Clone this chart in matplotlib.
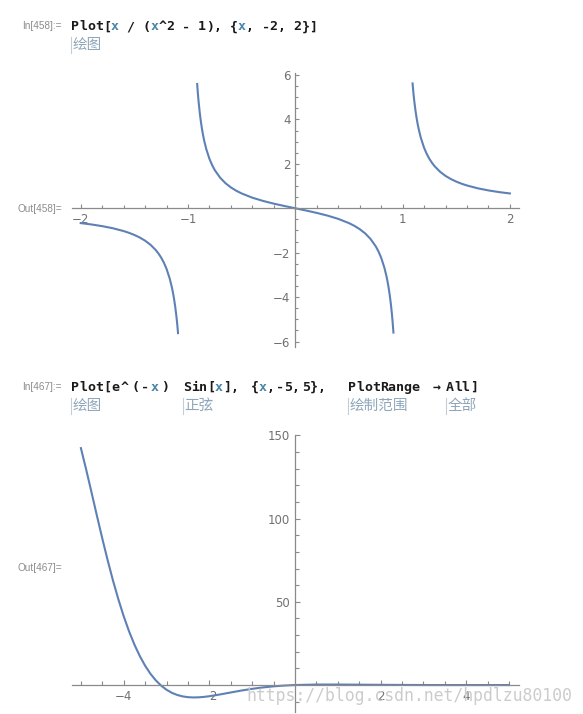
import matplotlib
matplotlib.use("Agg")
import matplotlib.pyplot as plt
from matplotlib.lines import Line2D
from matplotlib.ticker import FixedLocator

# ---------------- data ----------------
# Plot 1: x/(x^2-1) on [-2, 2], three branches
x1_left = [-2.0, -1.9, -1.8, -1.7, -1.6, -1.55, -1.5, -1.45, -1.4, -1.35, -1.3, -1.275, -1.25, -1.225,
           -1.2, -1.17, -1.15, -1.14, -1.13, -1.12, -1.11, -1.105, -1.10, -1.095, -1.093]
y1_left = [-0.667, -0.728, -0.804, -0.899, -1.026, -1.105, -1.20, -1.315, -1.458, -1.641, -1.884, -2.038,
           -2.222, -2.447, -2.727, -3.172, -3.566, -3.805, -4.081, -4.403, -4.782, -4.999, -5.238, -5.502, -5.62]

x1_mid = [-0.9146, -0.91, -0.905, -0.9, -0.89, -0.88, -0.87, -0.86, -0.85, -0.83, -0.8, -0.775, -0.75,
          -0.7, -0.65, -0.6, -0.55, -0.5, -0.4, -0.3, -0.2, -0.1, 0.0,
          0.1, 0.2, 0.3, 0.4, 0.5, 0.55, 0.6, 0.65, 0.7, 0.75, 0.775, 0.8, 0.83, 0.85, 0.86, 0.87,
          0.88, 0.89, 0.9, 0.905, 0.91, 0.9146]
y1_mid = [5.594, 5.294, 5.001, 4.737, 4.281, 3.901, 3.579, 3.303, 3.063, 2.668, 2.222, 1.941, 1.714,
          1.373, 1.126, 0.9375, 0.789, 0.667, 0.476, 0.330, 0.208, 0.101, 0.0,
          -0.101, -0.208, -0.330, -0.476, -0.667, -0.789, -0.9375, -1.126, -1.373, -1.714, -1.941, -2.222,
          -2.668, -3.063, -3.303, -3.579, -3.901, -4.281, -4.737, -5.001, -5.294, -5.594]

x1_right = [1.093, 1.095, 1.10, 1.105, 1.11, 1.12, 1.13, 1.14, 1.15, 1.17, 1.2, 1.225, 1.25, 1.275,
            1.3, 1.35, 1.4, 1.45, 1.5, 1.55, 1.6, 1.7, 1.8, 1.9, 2.0]
y1_right = [5.62, 5.502, 5.238, 4.999, 4.782, 4.403, 4.081, 3.805, 3.566, 3.172, 2.727, 2.447, 2.222, 2.038,
            1.884, 1.641, 1.458, 1.315, 1.20, 1.105, 1.026, 0.899, 0.804, 0.728, 0.667]

x1_ticklabels = [-2, -1, 1, 2]
y1_ticklabels = [-6, -4, -2, 2, 4, 6]

# Plot 2: e^(-x) Sin[x] on [-5, 5]
x2 = [-5.0, -4.875, -4.75, -4.625, -4.5, -4.375, -4.25, -4.125, -4.0, -3.875, -3.75, -3.625, -3.5,
      -3.375, -3.25, -3.125, -3.0, -2.875, -2.75, -2.625, -2.5, -2.375, -2.25, -2.125, -2.0, -1.75,
      -1.5, -1.25, -1.0, -0.75, -0.5, -0.25, 0.0, 0.5, 1.0, 1.5, 2.0, 2.5, 3.0, 3.5, 4.0, 4.5, 5.0]
y2 = [142.32, 129.24, 115.50, 101.61, 87.99, 74.96, 62.74, 51.51, 41.32, 32.25, 24.31, 17.44, 11.62,
      6.76, 2.79, -0.38, -2.83, -4.67, -5.97, -6.82, -7.29, -7.46, -7.38, -7.12, -6.72, -5.66,
      -4.47, -3.31, -2.29, -1.44, -0.79, -0.32, 0.0, 0.29, 0.31, 0.22, 0.12, 0.05, 0.01, -0.01, -0.01, -0.01, -0.01]

x2_ticklabels = [-4, -2, 2, 4]
y2_ticklabels = [50, 100, 150]

# ---------------- figure ----------------
W, H = 583, 714
fig = plt.figure(figsize=(W / 100, H / 100), dpi=100)
fig.patch.set_facecolor("white")


def fx(px):
    return px / W


def fy(py):
    return 1 - py / H


def make_axes(l, t, r, b):
    return fig.add_axes([fx(l), fy(b), (r - l) / W, (b - t) / H])


CURVE = "#5E81B5"
AXC = "#8a8a8a"
LBL = "#707070"


def style_axes(ax):
    ax.set_facecolor("none")
    for s in ("top", "right"):
        ax.spines[s].set_visible(False)
    for s in ("left", "bottom"):
        ax.spines[s].set_position(("data", 0))
        ax.spines[s].set_color(AXC)
        ax.spines[s].set_linewidth(0.9)
    ax.tick_params(which="both", direction="in", colors=AXC, labelcolor=LBL,
                   labelsize=8.5, width=0.8)
    ax.tick_params(which="major", length=3.2, pad=3.5)
    ax.tick_params(which="minor", length=2.0)


# ---- plot 1 ----
ax1 = make_axes(71.7, 73.3, 519, 346.7)
for xs, ys in ((x1_left, y1_left), (x1_mid, y1_mid), (x1_right, y1_right)):
    ax1.plot(xs, ys, color=CURVE, lw=1.5, solid_joinstyle="round")
ax1.set_xlim(-2.084, 2.085)
ax1.set_ylim(-6.23, 6.075)
style_axes(ax1)
ax1.xaxis.set_major_locator(FixedLocator(x1_ticklabels))
ax1.xaxis.set_minor_locator(FixedLocator([v / 5 for v in range(-10, 11) if v % 5 != 0]))
ax1.yaxis.set_major_locator(FixedLocator(y1_ticklabels))
ax1.yaxis.set_minor_locator(FixedLocator([v / 2 for v in range(-12, 13) if v % 4 != 0]))
ax1.set_xticklabels([f"{v}".replace("-", "\u2212") for v in x1_ticklabels])
ax1.set_yticklabels([f"{v}".replace("-", "\u2212") for v in y1_ticklabels])

# ---- plot 2 ----
ax2 = make_axes(71.7, 435, 519, 712)
ax2.plot(x2, y2, color=CURVE, lw=1.5, solid_joinstyle="round")
ax2.set_xlim(-5.215, 5.235)
ax2.set_ylim(-16.2, 150.2)
style_axes(ax2)
ax2.xaxis.set_major_locator(FixedLocator(x2_ticklabels))
ax2.xaxis.set_minor_locator(FixedLocator([v / 2 for v in range(-10, 11) if v % 4 != 0]))
ax2.yaxis.set_major_locator(FixedLocator(y2_ticklabels))
ax2.yaxis.set_minor_locator(FixedLocator([v for v in range(-10, 150, 10) if v % 50 != 0]))
ax2.set_xticklabels([f"{v}".replace("-", "\u2212") for v in x2_ticklabels])
ax2.set_yticklabels([f"{v}" for v in y2_ticklabels])
ax2.tick_params(which="major", length=3.8)
ax2.tick_params(which="minor", length=3.0)

# ---------------- notebook text ----------------
CODE_FS = 9.5
CW = 7.95  # advance of one monospace character in px
BLACK = "#1a1a1a"
VAR = "#4a86a8"
CELL = "#8c8c8c"
CJK = "#8fa6ba"
BAR = "#c6ccd2"


def mono(s, x0, base_y, cw=CW):
    for i, ch in enumerate(s):
        if ch == " ":
            continue
        fig.text(fx(x0 + i * cw), fy(base_y), ch, color=VAR if ch == "x" else BLACK,
                 ha="left", va="baseline", family="DejaVu Sans Mono",
                 fontweight="bold", fontsize=CODE_FS)


def cell_label(s, right_x, base_y):
    fig.text(fx(right_x), fy(base_y), s, color=CELL, ha="right", va="baseline",
             family="Liberation Sans", fontsize=7.2)


def cjk_label(s, x, cy):
    fig.add_artist(Line2D([fx(x), fx(x)], [fy(cy - 8), fy(cy + 8)], color=BAR, lw=0.8))
    fig.text(fx(x + 1.5), fy(cy), s, color=CJK, ha="left", va="center",
             family=["Noto Sans CJK SC", "DejaVu Sans"], fontsize=10.5)


# cell 1
cell_label("In[458]:=", 62, 29)
mono("Plot[x / (x^2 - 1), {x, -2, 2}]", 71, 30.5)
cjk_label("绘图", 71, 45)
cell_label("Out[458]=", 62, 212)

# cell 2
cell_label("In[467]:=", 62, 390)
mono("Plot[", 71, 391)
mono("e^(-x)", 111, 391, cw=10.0)
for seg, x0 in (("Sin[x],", 183), ("{x,", 251), ("-5,", 276),
                ("5},", 302), ("PlotRange", 348), ("\u2192", 433), ("All]", 446)):
    mono(seg, x0, 391)
cjk_label("绘图", 71, 406)
cjk_label("正弦", 183, 406)
cjk_label("绘制范围", 348, 406)
cjk_label("全部", 446, 406)
cell_label("Out[467]=", 62, 571)

# watermark
fig.text(fx(246), fy(696), "https://blog.csdn.net/hpdlzu80100", color="#cccccc",
         ha="left", va="center", family="DejaVu Sans Mono", fontsize=11.9, zorder=10)

fig.savefig("out.png", dpi=100, facecolor="white")
